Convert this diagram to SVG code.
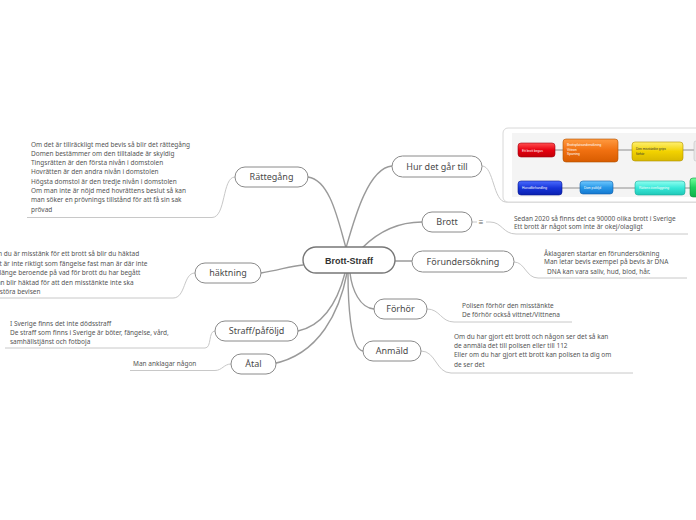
<svg xmlns="http://www.w3.org/2000/svg" width="696" height="520" viewBox="0 0 696 520">
<defs>
<style>
.node rect{fill:#fff;stroke:#8a8a8a;stroke-width:1}
.lbl{font-family:"Noto Sans","Open Sans",sans-serif;font-size:9px;fill:#4a4a4a;text-anchor:middle}
.note{font-family:"Noto Sans","Open Sans",sans-serif;font-size:6.5px;fill:#555}
.main{stroke:#9a9a9a;stroke-width:1.4;fill:none;stroke-linecap:round}
.sub{stroke:#c8c8c8;stroke-width:1;fill:none}
.tb{stroke-width:0.6}
.tiny{font-family:"Liberation Sans",sans-serif;font-size:3.2px}
.imgline{stroke:#777;stroke-width:0.8}
</style>
<linearGradient id="gRed" x1="0" y1="0" x2="0" y2="1"><stop offset="0" stop-color="#ff5050"/><stop offset="0.5" stop-color="#e80010"/><stop offset="1" stop-color="#c00008"/></linearGradient>
<linearGradient id="gOra" x1="0" y1="0" x2="0" y2="1"><stop offset="0" stop-color="#ff9a40"/><stop offset="0.5" stop-color="#f07010"/><stop offset="1" stop-color="#d85c00"/></linearGradient>
<linearGradient id="gYel" x1="0" y1="0" x2="0" y2="1"><stop offset="0" stop-color="#fff070"/><stop offset="0.5" stop-color="#f2d200"/><stop offset="1" stop-color="#d8b800"/></linearGradient>
<linearGradient id="gBlu" x1="0" y1="0" x2="0" y2="1"><stop offset="0" stop-color="#4a6cff"/><stop offset="0.5" stop-color="#1634d8"/><stop offset="1" stop-color="#0a20b0"/></linearGradient>
<linearGradient id="gLbl" x1="0" y1="0" x2="0" y2="1"><stop offset="0" stop-color="#70c8ff"/><stop offset="0.5" stop-color="#2898e8"/><stop offset="1" stop-color="#1478d0"/></linearGradient>
<linearGradient id="gCya" x1="0" y1="0" x2="0" y2="1"><stop offset="0" stop-color="#90fff0"/><stop offset="0.5" stop-color="#38e8d8"/><stop offset="1" stop-color="#20c8b8"/></linearGradient>
<linearGradient id="gGrn" x1="0" y1="0" x2="0" y2="1"><stop offset="0" stop-color="#70ff9a"/><stop offset="0.5" stop-color="#20d060"/><stop offset="1" stop-color="#10b048"/></linearGradient>
</defs>

<g id="connectors">
<path class="main" d="M308,177 C330,180 338,220 346,248"/>
<path class="main" d="M392,166 C368,168 354,220 346,248"/>
<path class="main" d="M422,222 C395,222 375,235 362,248"/>
<path class="main" d="M395,261 L412,261"/>
<path class="main" d="M261,273 C280,270 290,266 303,265"/>
<path class="main" d="M298,331 C325,325 338,300 345,273"/>
<path class="main" d="M272,364 C320,355 340,310 347,273"/>
<path class="main" d="M374,309 C360,308 352,290 350,273"/>
<path class="main" d="M363,351 C350,350 348,300 348,273"/>
<path class="sub" d="M27,217.5 H212 C226,217.5 222,177 235,177"/>
<path class="sub" d="M0,298 H173 C186,298 183,273 195,273"/>
<path class="sub" d="M5,348 H205 C212,348 208,331 215,331"/>
<path class="sub" d="M130,370.5 H215 C222,370.5 224,364 231,364"/>
<path class="sub" d="M482,166 C494,166 493,202 506,202 H696"/>
<path class="sub" d="M472,222 H477 M486,222 H490 C502,222 503,234 516,234 H688"/>
<path class="sub" d="M514,262 C525,262 526,278 538,278 H687"/>
<path class="sub" d="M427,309 C440,309 441,322 454,322 H572"/>
<path class="sub" d="M421,351 C436,351 436,373 451,373 H633"/>
</g>

<g id="center">
<rect x="303" y="247" width="92" height="26" rx="13" fill="#fff" stroke="#777" stroke-width="1.4"/>
<text x="349" y="263.5" text-anchor="middle" font-family="Liberation Sans, Arial, sans-serif" font-size="9" font-weight="bold" fill="#333">Brott-Straff</text>
</g>

<g id="n-rattegang" class="node"><rect x="235" y="167" width="73" height="20" rx="10"/><text class="lbl" x="271.5" y="180.2">Rättegång</text></g>
<g id="n-hur" class="node"><rect x="392" y="156" width="90" height="21" rx="10.5"/><text class="lbl" x="437" y="169.6">Hur det går till</text></g>
<g id="n-brott" class="node"><rect x="422" y="212" width="50" height="20" rx="10"/><text class="lbl" x="447" y="225.2">Brott</text></g>
<g id="n-forund" class="node"><rect x="412" y="251" width="102" height="21" rx="10.5"/><text class="lbl" x="463" y="264.6">Förundersökning</text></g>
<g id="n-haktning" class="node"><rect x="195" y="263" width="66" height="20" rx="10"/><text class="lbl" x="228" y="276.2">häktning</text></g>
<g id="n-forhor" class="node"><rect x="374" y="299" width="53" height="20" rx="10"/><text class="lbl" x="400.5" y="312.2">Förhör</text></g>
<g id="n-straff" class="node"><rect x="215" y="321" width="83" height="20" rx="10"/><text class="lbl" x="256.5" y="334.2">Straff/påföljd</text></g>
<g id="n-anmald" class="node"><rect x="363" y="341" width="58" height="20" rx="10"/><text class="lbl" x="392" y="354.2">Anmäld</text></g>
<g id="n-atal" class="node"><rect x="231" y="354" width="45" height="20" rx="10"/><text class="lbl" x="253.5" y="367.2">Åtal</text></g>

<g id="note-rattegang" class="note">
<text x="31" y="146.5">Om det är tillräckligt med bevis så blir det rättegång</text>
<text x="31" y="155.8">Domen bestämmer om den tilltalade är skyldig</text>
<text x="31" y="165.1">Tingsrätten är den första nivån i domstolen</text>
<text x="31" y="174.4">Hovrätten är den andra nivån i domstolen</text>
<text x="31" y="183.7">Högsta domstol är den tredje nivån i domstolen</text>
<text x="31" y="193">Om man inte är nöjd med hovrättens beslut så kan</text>
<text x="31" y="202.3">man söker en prövnings tillstånd för att få sin sak</text>
<text x="31" y="211.6">prövad</text>
</g>

<g id="note-haktning" class="note">
<text x="-9" y="256.3">Om du är misstänk för ett brott så blir du häktad</text>
<text x="-9" y="265.7">Det är inte riktigt som fängelse fast man är där inte</text>
<text x="-9" y="275.1">så länge beroende på vad för brott du har begått</text>
<text x="-9" y="284.5">Man blir häktad för att den misstänkte inte ska</text>
<text x="-9" y="293.9">förstöra bevisen</text>
</g>

<g id="note-straff" class="note">
<text x="10" y="326.3">I Sverige finns det inte dödsstraff</text>
<text x="10" y="335">De straff som finns i Sverige är böter, fängelse, vård,</text>
<text x="10" y="344">samhällstjänst och fotboja</text>
</g>

<g id="note-atal" class="note"><text x="133" y="366.3">Man anklagar någon</text></g>

<g id="note-brott" class="note">
<text x="481" y="224.5" font-size="8" fill="#666" text-anchor="middle">≡</text>
<text x="514" y="220.5">Sedan 2020 så finns det ca 90000 olika brott i Sverige</text>
<text x="514" y="228.5">Ett brott är något som inte är okej/olagligt</text>
</g>

<g id="note-forund" class="note">
<text x="544" y="255.5">Åklagaren startar en förundersökning</text>
<text x="544" y="264">Man letar bevis exempel på bevis är DNA</text>
<text x="547" y="274">DNA kan vara saliv, hud, blod, hår.</text>
</g>

<g id="note-forhor" class="note">
<text x="462" y="307.5">Polisen förhör den misstänkte</text>
<text x="462" y="316.5">De förhör också vittnet/Vittnena</text>
</g>

<g id="note-anmald" class="note">
<text x="454" y="338.5">Om du har gjort ett brott och någon ser det så kan</text>
<text x="454" y="347.5">de anmäla det till polisen eller till 112</text>
<text x="454" y="356.5">Eller om du har gjort ett brott kan polisen ta dig om</text>
<text x="454" y="366.5">de ser det</text>
</g>

<g id="picture">
<rect x="503" y="128" width="200" height="74" rx="5" fill="#fff" stroke="#d8d8d8" stroke-width="1"/>
<rect x="512" y="133" width="190" height="64" fill="#f4f4f4"/>
<line class="imgline" x1="555" y1="150" x2="563" y2="150"/>
<line class="imgline" x1="618" y1="150" x2="632" y2="150"/>
<line class="imgline" x1="683" y1="150" x2="696" y2="150"/>
<line class="imgline" x1="562" y1="188" x2="580" y2="188"/>
<line class="imgline" x1="613" y1="188" x2="635" y2="188"/>
<line class="imgline" x1="685" y1="188" x2="690" y2="188"/>
<rect x="694" y="141" width="10" height="20" rx="2" fill="#e8e8e8" stroke="#bbb" stroke-width="0.5"/>
<rect x="518" y="143" width="37" height="14" rx="3" fill="url(#gRed)" stroke="#a00010" class="tb"/>
<text class="tiny" x="522" y="151.5" fill="#fff">Ett brott begås</text>
<rect x="563" y="139" width="55" height="23" rx="3" fill="url(#gOra)" stroke="#b05000" class="tb"/>
<text class="tiny" x="567" y="146" fill="#fff">Brottsplatsundersökning</text>
<text class="tiny" x="567" y="150.5" fill="#fff">Vittnen</text>
<text class="tiny" x="567" y="155" fill="#fff">Spårning</text>
<rect x="632" y="142" width="51" height="19" rx="3" fill="url(#gYel)" stroke="#b09000" class="tb"/>
<text class="tiny" x="636" y="150" fill="#333">Den misstänkte grips</text>
<text class="tiny" x="636" y="154.5" fill="#333">förhör</text>
<rect x="518" y="181" width="44" height="14" rx="3" fill="url(#gBlu)" stroke="#081890" class="tb"/>
<text class="tiny" x="522" y="189" fill="#fff">Huvudförhandling</text>
<rect x="580" y="181" width="33" height="13" rx="3" fill="url(#gLbl)" stroke="#1060a8" class="tb"/>
<text class="tiny" x="584" y="188.8" fill="#fff">Dom påföljd</text>
<rect x="635" y="181" width="50" height="14" rx="3" fill="url(#gCya)" stroke="#18a898" class="tb"/>
<text class="tiny" x="639" y="189" fill="#fff">Rättens överläggning</text>
<rect x="690" y="178" width="12" height="19" rx="3" fill="url(#gGrn)" stroke="#109040" class="tb"/>
</g>
</svg>
